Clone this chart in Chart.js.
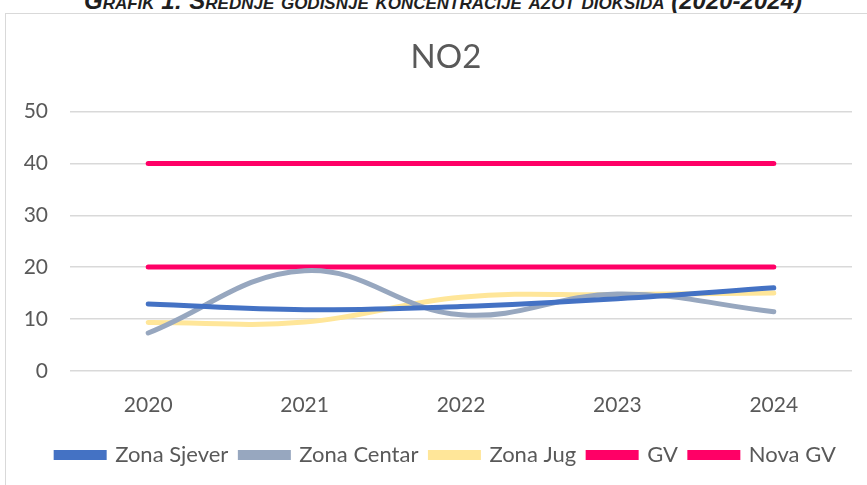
<!DOCTYPE html>
<html>
<head>
<meta charset="utf-8">
<script src="https://cdn.jsdelivr.net/npm/chart.js@4"></script>
<style>
  body { margin: 0; width: 867px; height: 485px; overflow: hidden; background: #fff; font-family: Lato, sans-serif; }
  #caption {
    position: absolute; left: 0; width: 886px; top: -13px; text-align: center;
    font: italic bold 24px "Liberation Sans", sans-serif; color: #1f1f1f; white-space: nowrap;
  }
  #caption .sc { font-variant: small-caps; }
  #frame {
    position: absolute; left: 5px; top: 13px; width: 900px; height: 480px;
    border: 1.5px solid #d9d9d9;
  }
  #wrap { position: absolute; left: 6px; top: 14px; width: 876px; height: 470px; }
</style>
</head>
<body>
<div id="caption"><span class="sc">Grafik 1: Srednje godišnje koncentracije azot dioksida</span> (2020-2024)</div>
<div id="frame"></div>
<div id="wrap"><canvas id="chart"></canvas></div>
<script>
// DATA
const years = ["2020", "2021", "2022", "2023", "2024"];
const zonaSjever = [12.9, 11.8, 12.4, 13.9, 16.0];
const zonaCentar = [7.3, 19.3, 10.8, 14.8, 11.4];
const zonaJug = [9.3, 9.4, 14.2, 14.7, 15.0];
const gv = [40, 40, 40, 40, 40];
const novaGv = [20, 20, 20, 20, 20];
const yTicks = [0, 10, 20, 30, 40, 50];

const TEXT = "#595959";

function line(label, data, color) {
  return {
    label,
    data,
    borderColor: color,
    backgroundColor: color,
    borderWidth: 5,
    borderCapStyle: "round",
    pointRadius: 0,
    tension: 0.4,
    fill: false,
  };
}

// nudge title + legend right so they are centred on the whole frame (Excel style)
const centerShift = {
  id: "centerShift",
  afterLayout(chart) {
    const dx = 9;
    [chart.titleBlock, chart.legend].forEach((b) => {
      if (!b) return;
      b.left += dx;
      b.right += dx;
    });
  },
};

new Chart(document.getElementById("chart"), {
  type: "line",
  data: {
    labels: years,
    datasets: [
      line("Zona Sjever", zonaSjever, "#4472c4"),
      line("Zona Centar", zonaCentar, "#97a7bf"),
      line("Zona Jug", zonaJug, "#ffe699"),
      line("GV", gv, "#ff0066"),
      line("Nova GV", novaGv, "#ff0066"),
    ],
  },
  plugins: [centerShift],
  options: {
    responsive: true,
    maintainAspectRatio: false,
    animation: false,
    layout: { padding: { left: 16, right: 30, top: 24, bottom: 8 } },
    plugins: {
      title: {
        display: true,
        text: "NO2",
        color: TEXT,
        font: { family: "Lato", size: 33, weight: "normal" },
        padding: { top: 0, bottom: 34 },
      },
      legend: {
        position: "bottom",
        labels: {
          color: TEXT,
          font: { family: "Lato", size: 22 },
          boxWidth: 48,
          boxHeight: 5,
          padding: 12,
        },
      },
      tooltip: { enabled: false },
    },
    scales: {
      x: {
        offset: true,
        grid: { display: false },
        border: { display: false },
        ticks: { color: TEXT, font: { family: "Lato", size: 21 }, padding: 14 },
      },
      y: {
        min: 0,
        max: 50,
        afterBuildTicks: (axis) => { axis.ticks = yTicks.map(v => ({ value: v })); },
        afterFit: (axis) => { axis.width = 48; },
        grid: { color: "#d9d9d9", lineWidth: 1.5, drawTicks: false },
        border: { display: false },
        ticks: { color: TEXT, font: { family: "Lato", size: 21 }, padding: 22 },
      },
    },
  },
});
</script>
</body>
</html>
